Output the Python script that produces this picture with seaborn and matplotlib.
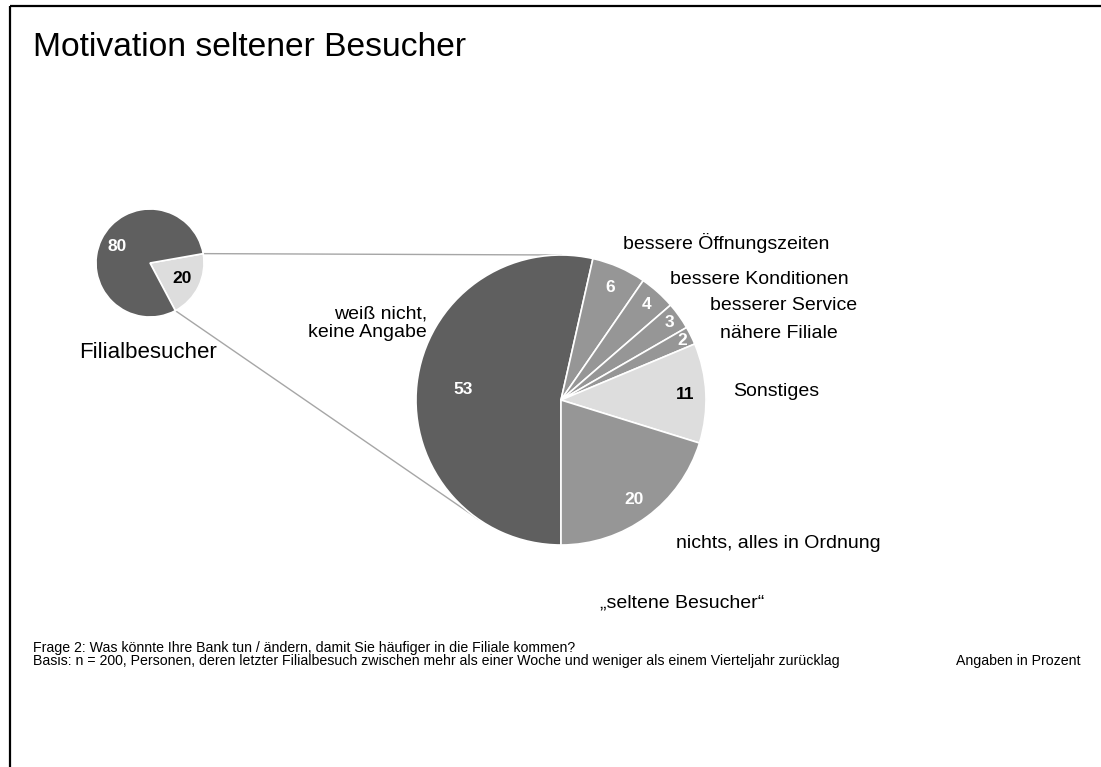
import numpy as np
import matplotlib
matplotlib.use("Agg")
import matplotlib.pyplot as plt
import seaborn as sns

# ---------------- data ----------------
title = "Motivation seltener Besucher"
small_labels = ["seltene Besucher", "Filialbesucher"]
small_values = [20, 80]
big_categories = ["weiß nicht,\nkeine Angabe", "bessere Öffnungszeiten", "bessere Konditionen",
                  "besserer Service", "nähere Filiale", "Sonstiges", "nichts, alles in Ordnung"]
big_values = [53, 6, 4, 3, 2, 11, 20]
small_title = "Filialbesucher"
big_title = "„seltene Besucher“"
note_1 = "Frage 2: Was könnte Ihre Bank tun / ändern, damit Sie häufiger in die Filiale kommen?"
note_2 = ("Basis: n = 200, Personen, deren letzter Filialbesuch zwischen mehr als einer Woche "
          "und weniger als einem Vierteljahr zurücklag")
note_3 = "Angaben in Prozent"

# ---------------- style ----------------
sns.set_theme(style="white")
plt.rcParams["font.family"] = ["Liberation Sans", "DejaVu Sans"]

DARK, MID, LIGHT = "#5f5f5f", "#969696", "#dddddd"
small_colors = [LIGHT, DARK]
small_txt = ["black", "white"]
big_colors = [DARK, MID, MID, MID, MID, LIGHT, MID]
big_txt = ["white", "white", "white", "white", "white", "black", "white"]
big_lbl_dist = [0.68, 0.85, 0.88, 0.92, 0.93, 0.86, 0.85]
small_lbl_dist = [0.66, 0.68]

W, H = 1101, 767
fig = plt.figure(figsize=(W / 100, H / 100), dpi=100)
ax = fig.add_axes([0, 0, 1, 1])

def Y(py):
    return H - py

small_c, small_r = (150, Y(263)), 54
big_c, big_r = (561, Y(400)), 145

wp = dict(edgecolor="white", linewidth=1.2)
sw, _ = ax.pie(small_values, colors=small_colors, startangle=10, counterclock=False,
               center=small_c, radius=small_r, wedgeprops=wp, frame=False)
bw, _ = ax.pie(big_values, colors=big_colors, startangle=-90, counterclock=False,
               center=big_c, radius=big_r, wedgeprops=wp, frame=False)

def put_values(wedges, values, dists, colors):
    for w, v, d, c in zip(wedges, values, dists, colors):
        ang = np.deg2rad((w.theta1 + w.theta2) / 2)
        cx, cy = w.center
        ax.text(cx + d * w.r * np.cos(ang), cy + d * w.r * np.sin(ang), str(v),
                ha="center", va="center", fontsize=12.5, fontweight="bold", color=c)

put_values(sw, small_values, small_lbl_dist, small_txt)
put_values(bw, big_values, big_lbl_dist, big_txt)

# connector lines (tangent from small-wedge edge points to big circle)
w20 = sw[0]
def tangent(p, upper):
    C = np.array(big_c, float)
    v = np.array(p, float) - C
    d = np.hypot(*v)
    phi = np.arctan2(v[1], v[0])
    a = np.arccos(big_r / d)
    t = phi - a if upper else phi + a
    return C + big_r * np.array([np.cos(t), np.sin(t)])

for th, upper in [(w20.theta2, True), (w20.theta1, False)]:
    p = np.array(small_c) + small_r * np.array([np.cos(np.deg2rad(th)), np.sin(np.deg2rad(th))])
    q = tangent(p, upper)
    ax.plot([p[0], q[0]], [p[1], q[1]], color="#a6a6a6", lw=1.0, zorder=0.5)

# category labels
cat_pos = [(427, 323, "right"), (623, 243, "left"), (670, 280, "left"), (710, 306, "left"),
           (720, 333, "left"), (733, 392, "left"), (676, 543, "left")]
for lab, (x, y, ha) in zip(big_categories, cat_pos):
    ax.text(x, Y(y), lab, ha=ha, va="center", fontsize=14, color="black",
            multialignment="right" if ha == "right" else "left", linespacing=1.15)

ax.text(148, Y(352), small_title, ha="center", va="center", fontsize=16, color="black")
ax.text(682, Y(603), big_title, ha="center", va="center", fontsize=14, color="black")
ax.text(33, Y(48), title, ha="left", va="center", fontsize=24.2, color="black")
ax.text(33, Y(648), note_1, ha="left", va="center", fontsize=10.2, color="black")
ax.text(33, Y(661), note_2, ha="left", va="center", fontsize=10.2, color="black")
ax.text(1081, Y(661), note_3, ha="right", va="center", fontsize=10.2, color="black")

# frame
ax.plot([9.5, W], [Y(5.5), Y(5.5)], color="black", lw=1.6, clip_on=False, solid_capstyle="butt")
ax.plot([9.5, 9.5], [Y(5.5), 0], color="black", lw=1.6, clip_on=False, solid_capstyle="butt")

ax.set_xlim(0, W)
ax.set_ylim(0, H)
ax.set_aspect("equal")
ax.axis("off")
fig.savefig("out.png", dpi=100, facecolor="white")
